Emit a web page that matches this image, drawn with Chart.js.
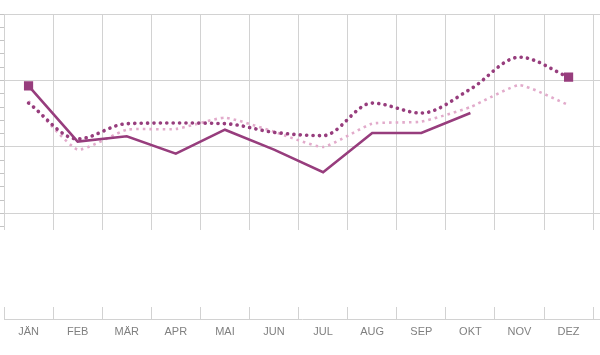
<!DOCTYPE html>
<html>
<head>
<meta charset="utf-8">
<script src="https://cdn.jsdelivr.net/npm/chart.js@4"></script>
<style>
  html, body { margin: 0; padding: 0; background: #ffffff; }
  #wrap { width: 600px; height: 355px; }
</style>
</head>
<body>
<div id="wrap"><canvas id="c" width="600" height="355"></canvas></div>
<script>
// Categories (months)
const months = ['JÄN', 'FEB', 'MÄR', 'APR', 'MAI', 'JUN', 'JUL', 'AUG', 'SEP', 'OKT', 'NOV', 'DEZ'];

// Series values (unlabeled axis units)
const seriesCurrent  = [4.6, 0.4, 0.8, -0.5, 1.3, -0.2, -1.9, 1.05, 1.05, 2.55, null, null];
const seriesPrevious = [3.3, 0.6, 1.75, 1.8, 1.75, 1.1, 0.85, 3.3, 2.55, 4.35, 6.75, 5.25];
const seriesOlder    = [3.45, -0.2, 1.3, 1.35, 2.2, 1.15, 0.0, 1.75, 1.9, 3.0, 4.65, 3.15];

// Y axis range and tick step (no visible labels)
const yMin = -13, yMax = 10, yStep = 1;

const toPoints = arr => arr.map((v, i) => ({ x: i, y: v }));

Chart.defaults.font.family = "'Liberation Sans', Arial, sans-serif";
Chart.defaults.font.size = 11;
Chart.defaults.color = '#808080';

const dark = '#973d7d';
const pink = '#e2abcb';
const gridCol = '#d2d2d2';

new Chart(document.getElementById('c'), {
  type: 'line',
  data: {
    datasets: [
      {
        label: 'Aktuell',
        data: toPoints(seriesCurrent),
        borderColor: dark,
        backgroundColor: dark,
        borderWidth: 2.6,
        tension: 0,
        pointStyle: 'rect',
        pointRadius: ctx => ctx.dataIndex === 0 ? 6.5 : 0,
        pointBorderWidth: 0,
        pointBackgroundColor: dark
      },
      {
        label: 'Vorjahr',
        data: toPoints(seriesPrevious),
        borderColor: dark,
        backgroundColor: dark,
        borderWidth: 3.6,
        borderDash: [0.1, 6.3],
        borderCapStyle: 'round',
        cubicInterpolationMode: 'monotone',
        pointStyle: 'rect',
        pointRadius: ctx => ctx.dataIndex === seriesPrevious.length - 1 ? 6.5 : 0,
        pointBorderWidth: 0,
        pointBackgroundColor: dark
      },
      {
        label: 'Vorvorjahr',
        data: toPoints(seriesOlder),
        borderColor: pink,
        backgroundColor: pink,
        borderWidth: 2.6,
        borderDash: [2.6, 4],
        borderCapStyle: 'butt',
        tension: 0.15,
        pointRadius: 0
      }
    ]
  },
  options: {
    responsive: false,
    animation: false,
    events: [],
    devicePixelRatio: 1,
    layout: { autoPadding: false, padding: { top: 14, left: 0, right: 0, bottom: 10 } },
    plugins: { legend: { display: false }, tooltip: { enabled: false } },
    scales: {
      x: {
        type: 'linear',
        min: -0.5,
        max: 11.64,
        offset: false,
        ticks: {
          stepSize: 1,
          includeBounds: false,
          autoSkip: false,
          maxRotation: 0,
          padding: 6,
          color: '#808080',
          font: { size: 11 },
          callback: v => months[v] !== undefined ? months[v] : ''
        },
        grid: {
          offset: true,
          color: gridCol,
          lineWidth: 1,
          drawTicks: false
        },
        border: {
          display: true,
          color: gridCol,
          width: 1,
          dash: [216, 77, 40, 1000]
        }
      },
      y: {
        type: 'linear',
        min: yMin,
        max: yMax,
        afterFit: scale => { scale.width = 4; },
        ticks: { display: false, stepSize: yStep },
        grid: {
          color: ctx => (ctx.tick && ctx.tick.value % 5 === 0 && ctx.tick.value >= -5) ? gridCol : 'rgba(0,0,0,0)',
          tickColor: ctx => (ctx.tick && ctx.tick.value >= -6) ? '#c4c4c4' : 'rgba(0,0,0,0)',
          drawTicks: true,
          tickLength: 4,
          lineWidth: 1
        },
        border: { display: false }
      }
    }
  }
});
</script>
</body>
</html>
